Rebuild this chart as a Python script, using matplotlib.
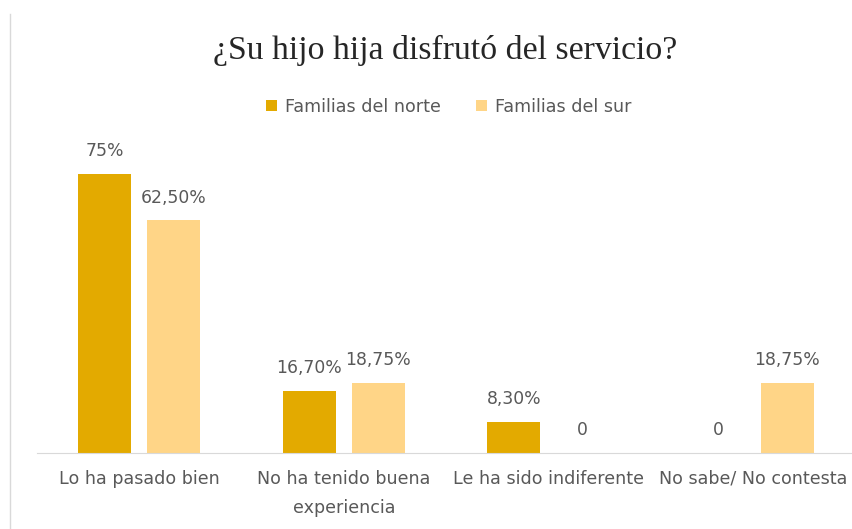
import numpy as np
import matplotlib.pyplot as plt
from matplotlib.lines import Line2D

categorias = ['Lo ha pasado bien', 'No ha tenido buena\nexperiencia',
              'Le ha sido indiferente', 'No sabe/ No contesta']
norte = [75, 16.70, 8.30, 0]
sur = [62.50, 18.75, 0, 18.75]
etiquetas_norte = ['75%', '16,70%', '8,30%', '0']
etiquetas_sur = ['62,50%', '18,75%', '0', '18,75%']

c_norte = '#E3AA00'
c_sur = '#FFD587'
gris = '#595959'

fig = plt.figure(figsize=(8.52, 5.29), dpi=100)
ax = fig.add_axes([37/852, 76/529, 818/852, 297.6/529])

x = np.arange(len(categorias))
ancho = 0.26
desp = 0.169
ax.bar(x - desp, norte, ancho, color=c_norte, label='Familias del norte')
ax.bar(x + desp, sur, ancho, color=c_sur, label='Familias del sur')

for i in range(len(x)):
    ax.annotate(etiquetas_norte[i], (x[i] - desp, norte[i]), xytext=(0, 10),
                textcoords='offset points', ha='center', va='bottom', fontsize=12.4, color=gris)
    ax.annotate(etiquetas_sur[i], (x[i] + desp, sur[i]), xytext=(0, 10),
                textcoords='offset points', ha='center', va='bottom', fontsize=12.4, color=gris)

ax.set_xlim(-0.5, 3.5)
ax.set_ylim(0, 80)
ax.set_xticks(x)
ax.set_xticklabels(categorias, fontsize=12.6, color=gris, linespacing=1.8)
ax.tick_params(axis='x', length=0, pad=12)
ax.set_yticks([])
for s in ['top', 'right', 'left']:
    ax.spines[s].set_visible(False)
ax.spines['bottom'].set_color('#D9D9D9')

fig.text(0.522, 0.905, '¿Su hijo hija disfrutó del servicio?', ha='center', va='center',
         fontsize=24.3, family='Liberation Serif', color='#262626')
leg = fig.legend(loc='center', bbox_to_anchor=(0.527, 0.798), ncol=2, frameon=False,
                 fontsize=12.6, handlelength=0.6, handleheight=0.6, columnspacing=2.0,
                 handletextpad=0.5)
for t in leg.get_texts():
    t.set_color(gris)

fig.add_artist(Line2D([10/852, 10/852], [0, 1 - 14/529], color='#D9D9D9', lw=1))

fig.savefig('out.png', dpi=100)
